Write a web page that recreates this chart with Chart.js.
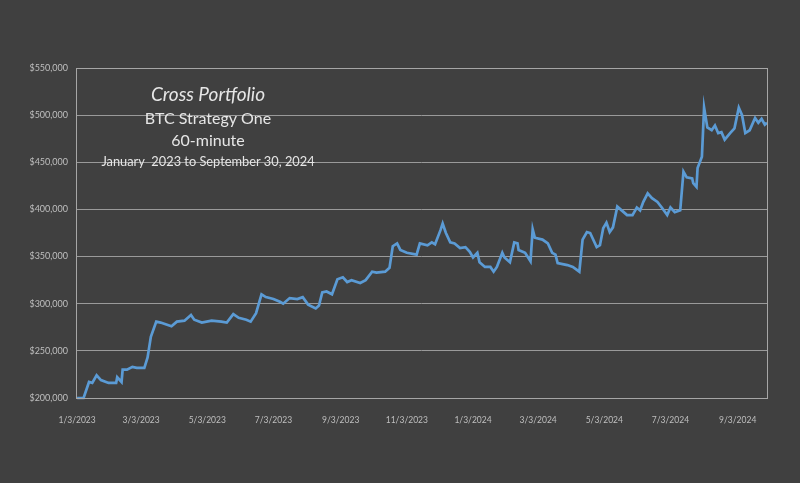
<!DOCTYPE html>
<html>
<head>
<meta charset="utf-8">
<script src="https://cdn.jsdelivr.net/npm/chart.js@4.4.1/dist/chart.umd.min.js"></script>
<style>
    html, body { margin: 0; padding: 0; background: #404040; }
    #equity-chart { display: block; }
</style>
</head>
<body>
<canvas id="equity-chart" width="800" height="483"></canvas>
<script>
// days since 1/3/2023 and the account equity at that day
const days = [0, 6, 11, 14, 18, 22, 29, 36, 37, 41, 42, 46, 51, 55, 62, 65, 68, 73, 77, 87,
    92, 99, 105, 108, 115, 124, 133, 138, 144, 149, 156, 160, 165, 170, 174, 181, 187, 190, 196, 203,
    208, 213, 220, 223, 226, 230, 235, 240, 245, 249, 253, 261, 266, 272, 276, 284, 288, 291, 295, 298,
    304, 313, 316, 323, 327, 330, 335, 337, 340, 344, 348, 353, 358, 362, 365, 369, 371, 376, 381, 384,
    387, 392, 394, 399, 403, 406, 407, 413, 418, 420, 422, 429, 434, 438, 441, 443, 452, 457, 463, 466,
    470, 473, 479, 482, 485, 488, 491, 494, 498, 502, 507, 512, 516, 519, 522, 526, 530, 535, 539, 544,
    547, 551, 556, 559, 562, 567, 568, 571, 572, 576, 578, 581, 585, 588, 591, 594, 597, 602, 606, 610,
    613, 616, 620, 625, 628, 631, 634, 636];
const equity = [200000, 200000, 217000, 216000, 224000, 219000, 216000, 216000, 222000, 217000,
    230000, 230000, 233000, 232000, 232000, 243000, 265000, 281000, 280000, 276000,
    281000, 282000, 288000, 283000, 280000, 282000, 281000, 280000, 289000, 285000,
    283000, 281000, 290000, 310000, 307000, 305000, 302000, 300000, 306000, 305000,
    307000, 299000, 295000, 298000, 312000, 313000, 310000, 326000, 328000, 323000,
    325000, 322000, 325000, 334000, 333000, 334000, 338000, 361000, 364000, 357000,
    354000, 352000, 364000, 362000, 365000, 363000, 378000, 385000, 375000, 365000,
    364000, 359000, 360000, 355000, 349000, 354000, 344000, 339000, 339000, 334000,
    339000, 354000, 349000, 344000, 365000, 364000, 357000, 354000, 345000, 379000,
    370000, 368000, 364000, 354000, 352000, 343000, 341000, 339000, 334000, 368000,
    376000, 375000, 360000, 362000, 380000, 386000, 376000, 381000, 403000, 399000,
    394000, 394000, 402000, 399000, 408000, 417000, 412000, 408000, 402000, 394000,
    402000, 397000, 399000, 440000, 434000, 433000, 428000, 424000, 444000, 456000,
    508000, 487000, 484000, 489000, 481000, 482000, 474000, 481000, 486000, 508000,
    500000, 481000, 484000, 497000, 492000, 496000, 490000, 492000];

const tickDays = [0, 59, 120, 181, 243, 304, 365, 425, 486, 547, 609];
const tickLabels = ['1/3/2023', '3/3/2023', '5/3/2023', '7/3/2023', '9/3/2023', '11/3/2023',
    '1/3/2024', '3/3/2024', '5/3/2024', '7/3/2024', '9/3/2024'];

const titleLines = ['Cross Portfolio', 'BTC Strategy One', '60-minute', 'January  2023 to September 30, 2024'];

const FONT = 'Lato, "Open Sans", sans-serif';

// dark background + frame round the plot area
const frame = {
    id: 'frame',
    beforeDraw(chart) {
        const ctx = chart.ctx;
        ctx.save();
        ctx.fillStyle = '#404040';
        ctx.fillRect(0, 0, chart.width, chart.height);
        ctx.restore();
    },
    afterDatasetsDraw(chart) {
        const {ctx, chartArea: a} = chart;
        ctx.save();
        ctx.strokeStyle = '#a6a6a6';
        ctx.lineWidth = 1;
        ctx.strokeRect(Math.round(a.left) + 0.5, Math.round(a.top) + 0.5,
            Math.round(a.right - a.left), Math.round(a.bottom - a.top));
        ctx.restore();
    }
};

// the text box in the upper left of the plot
const titleBox = {
    id: 'titleBox',
    afterDraw(chart) {
        const ctx = chart.ctx;
        const cx = 208;
        const styles = [
            {font: 'italic 19px ' + FONT, y: 95},
            {font: '16px ' + FONT, y: 119},
            {font: '16px ' + FONT, y: 141},
            {font: '12.8px ' + FONT, y: 162}
        ];
        ctx.save();
        ctx.fillStyle = '#e6e6e6';
        ctx.textAlign = 'center';
        ctx.textBaseline = 'middle';
        titleLines.forEach((line, i) => {
            ctx.font = styles[i].font;
            ctx.fillText(line, cx, styles[i].y);
        });
        ctx.restore();
    }
};

const points = days.map((d, i) => ({x: d, y: equity[i]}));

new Chart(document.querySelector('#equity-chart'), {
    type: 'line',
    data: {
        datasets: [{
            label: 'Equity',
            data: points,
            borderColor: '#5b9bd5',
            borderWidth: 2.7,
            pointRadius: 0,
            tension: 0,
            fill: false,
            clip: false
        }]
    },
    options: {
        responsive: false,
        animation: false,
        layout: {padding: {top: 68, right: 33, left: 0, bottom: 0}},
        plugins: {
            legend: {display: false},
            tooltip: {enabled: false},
            title: {display: false}
        },
        scales: {
            x: {
                type: 'linear',
                min: -1,
                max: 636,
                grid: {display: false},
                border: {display: false},
                afterBuildTicks(axis) {
                    axis.ticks = tickDays.map((v) => ({value: v}));
                },
                afterFit(axis) {
                    axis.height = 85;
                },
                ticks: {
                    autoSkip: false,
                    maxRotation: 0,
                    padding: 9,
                    color: '#bfbfbf',
                    font: {family: FONT, size: 8.5},
                    callback(value) {
                        const i = tickDays.indexOf(value);
                        return i >= 0 ? tickLabels[i] : '';
                    }
                }
            },
            y: {
                min: 200000,
                max: 550000,
                grid: {color: '#9a9a9a', lineWidth: 1, drawTicks: false},
                border: {display: false},
                afterFit(axis) {
                    axis.width = 76;
                },
                ticks: {
                    stepSize: 50000,
                    padding: 8,
                    color: '#bfbfbf',
                    font: {family: FONT, size: 9},
                    callback(value) {
                        return '$' + value.toLocaleString('en-US');
                    }
                }
            }
        }
    },
    plugins: [frame, titleBox]
});
</script>
</body>
</html>
